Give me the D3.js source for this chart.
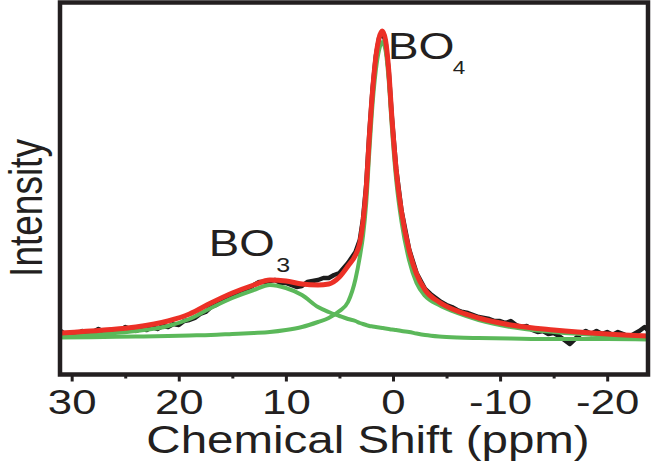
<!DOCTYPE html>
<html>
<head>
<meta charset="utf-8">
<script src="https://cdn.jsdelivr.net/npm/d3@7"></script>
<style>
  body { margin: 0; background: #fff; }
  svg { display: block; font-family: "Liberation Sans", Arial, sans-serif; }
</style>
</head>
<body>
<svg></svg>
<script>
// sample grid (ppm) for the fitted curves
const ppmFit = [31, 27, 24, 21, 19, 17, 15, 13, 11.5, 10, 8.5, 7, 6, 5, 4.2, 3.5, 3.1, 2.8, 2.5, 2.2,
  1.9, 1.6, 1.3, 1.0, 0.7, 0.4, 0.1, -0.3, -0.8, -1.5, -2.2, -3, -4.3, -6, -8, -11, -15, -20, -24];
// total fit (red)
const fitTotal = [8, 11, 14, 20, 27, 38, 48, 56, 61, 60, 57, 56, 57, 64, 75, 86, 98, 119, 153, 206,
  251, 284, 303, 310, 301, 271, 223, 171, 129, 91, 67, 51, 39, 30, 23, 16, 11, 7, 5];
// BO3 component (green)
const fitBO3 = [4, 7, 10, 15, 22, 33, 43, 51, 56, 53, 46, 34, 29, 25, 22, 20, 18, 17, 16, 15,
  14.5, 14, 13.5, 13, 12.5, 12, 11.5, 11, 10, 9, 7.5, 6, 4.5, 3.5, 3, 2.5, 2, 2, 1.5];
// BO4 component (green)
const fitBO4 = [3.5, 4, 4.5, 5, 5.5, 6, 7, 8, 9, 11, 14, 19, 23, 30, 39, 62, 84, 105, 138, 191,
  238, 271, 291, 299, 291, 261, 213, 161, 119, 81, 58, 45, 36, 28, 21, 14, 9, 5.5, 4];

// experimental spectrum (black)
const ppmExp = d3.range(31, 5.4, -0.5)
  .concat([5, 4.2, 3.5, 3.1, 2.8, 2.5, 2.2, 1.9, 1.6, 1.3, 1.0, 0.7, 0.4, 0.1, -0.3, -0.8, -1.5, -2.2, -3, -3.5, -4])
  .concat(d3.range(-4.5, -24.1, -0.5));
const expIntensity = [
  10, 5, 8, 7, 10, 8, 9, 12, 9, 11, 11, 10, 14, 12, 10, 12, 11, 14, 12, 15,
  14, 17, 16, 20, 21, 23, 27, 29, 34, 36, 40, 42, 46, 47, 51, 52, 56, 59, 59, 60,
  61, 58, 58, 56, 54, 55, 59, 60, 61, 63, 63, 66,
  68, 78, 89, 101, 122, 156, 209, 253, 285, 303, 309, 300, 270, 223, 172, 130, 92, 68, 52, 47, 43,
  39, 36, 34, 31, 29, 28, 26, 24, 23, 22, 20, 20, 18, 20, 16, 14, 15, 11, 9, 10,
  7, 8, 5, 1, -3, 2, 7, 10, 7, 10, 7, 9, 6, 9, 7, 4, 7, 10, 14, 9];

const majorTicks = [30, 20, 10, 0, -10, -20];
const minorTicks = [25, 15, 5, -5, -15];

const width = 652, height = 465;
const mLeft = 60, mRight = 648, mTop = 2.5, mBottom = 374.5;
const sx = 1.25; // text in the figure is stretched horizontally
const ink = "#231f20";

const svg = d3.select("svg").attr("width", width).attr("height", height);

const x = d3.scaleLinear().domain([31.09, -23.81]).range([mLeft, mRight]);
const y = d3.scaleLinear().domain([0, 310]).range([341, 31]);

svg.append("defs").append("clipPath").attr("id", "plot")
  .append("rect").attr("x", mLeft).attr("y", mTop).attr("width", mRight - mLeft).attr("height", mBottom - mTop);

const plot = svg.append("g").attr("clip-path", "url(#plot)");

const expPts = ppmExp.map((p, i) => [p, expIntensity[i]]);
const line = d3.line().x(d => x(d[0])).y(d => y(d[1]));
const smooth = d3.line().x(d => x(d[0])).y(d => y(d[1])).curve(d3.curveMonotoneX);

plot.append("path")
  .attr("d", line(expPts))
  .attr("fill", "none").attr("stroke", "#1c1c1c").attr("stroke-width", 4.5)
  .attr("stroke-linejoin", "round");

[fitBO4, fitBO3].forEach(s => {
  plot.append("path")
    .attr("d", smooth(ppmFit.map((p, i) => [p, s[i]])))
    .attr("fill", "none").attr("stroke", "#5bb85a").attr("stroke-width", 4);
});

plot.append("path")
  .attr("d", smooth(ppmFit.map((p, i) => [p, fitTotal[i]])))
  .attr("fill", "none").attr("stroke", "#ec3026").attr("stroke-width", 5)
  .attr("stroke-linejoin", "round");

// axis
const axis = svg.append("g").attr("transform", `translate(0,${mBottom})`);
axis.call(d3.axisBottom(x).tickValues(majorTicks).tickSize(7).tickFormat(d => String(d)));
axis.call(g => g.select(".domain").remove());
axis.selectAll(".tick line").attr("stroke", ink).attr("stroke-width", 3);
axis.selectAll(".tick text")
  .attr("y", 40).attr("dy", null)
  .attr("transform", `scale(${sx},1)`)
  .attr("font-size", 35).attr("fill", ink)
  .attr("font-family", "Liberation Sans, Arial, sans-serif");

const axisMinor = svg.append("g").attr("transform", `translate(0,${mBottom})`);
axisMinor.call(d3.axisBottom(x).tickValues(minorTicks).tickSize(4).tickFormat(""));
axisMinor.call(g => g.select(".domain").remove());
axisMinor.selectAll(".tick line").attr("stroke", ink).attr("stroke-width", 3);

// frame
svg.append("rect")
  .attr("x", mLeft).attr("y", mTop).attr("width", mRight - mLeft).attr("height", mBottom - mTop)
  .attr("fill", "none").attr("stroke", ink).attr("stroke-width", 4.5);

// axis titles
svg.append("text")
  .attr("transform", `translate(${(mLeft + mRight) / 2 + 14},453) scale(${sx},1)`)
  .attr("text-anchor", "middle").attr("font-size", 38).attr("fill", ink)
  .text("Chemical Shift (ppm)");

svg.append("text")
  .attr("transform", `translate(42,208) scale(${sx},1) rotate(-90)`)
  .attr("text-anchor", "middle").attr("font-size", 37).attr("fill", ink)
  .text("Intensity");

// peak labels
function label(px, py, main, sub, fs, subFs, subDx, subDy) {
  const g = svg.append("g").attr("transform", `translate(${px},${py}) scale(${sx},1)`);
  g.append("text").attr("font-size", fs).attr("fill", ink).text(main);
  g.append("text").attr("x", subDx).attr("y", subDy).attr("font-size", subFs).attr("fill", ink).text(sub);
}
label(x(0.5), 59, "BO", "4", 37, 18, 52, 15);
label(x(17.2), 256, "BO", "3", 36.5, 20, 54, 16);
</script>
</body>
</html>
